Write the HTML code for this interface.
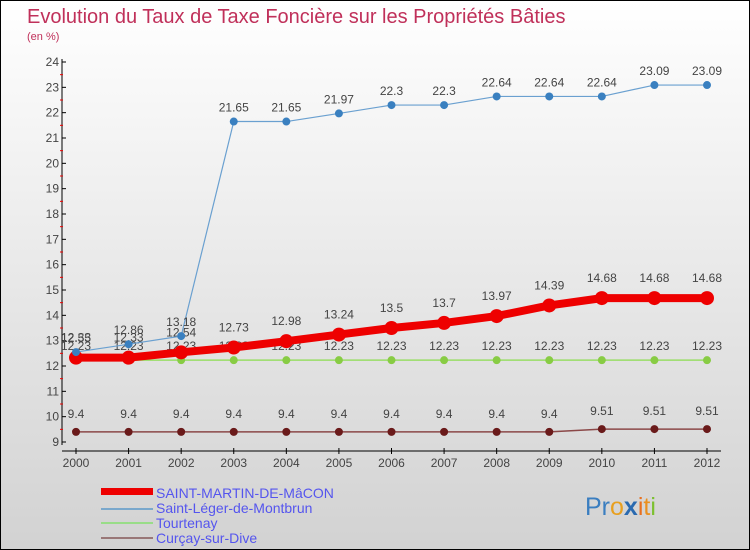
<!DOCTYPE html>
<html><head><meta charset="utf-8"><style>
body{margin:0}
#c{width:748px;height:548px;border:1px solid #000;background:linear-gradient(#fff,#d2d2d2);position:relative;overflow:hidden;font-family:"Liberation Sans",sans-serif}
</style></head><body>
<div id="c">
<svg width="748" height="548" style="position:absolute;left:0;top:0" font-family="Liberation Sans, sans-serif">
<text x="26" y="22" font-size="20" fill="#c0305a">Evolution du Taux de Taxe Foncière sur les Propriétés Bâties</text>
<text x="26" y="39" font-size="11" fill="#c0305a">(en %)</text>
<g id="axes"></g><g id="series"></g>
<g font-size="14">
<rect x="100" y="487" width="52" height="7" fill="#e00"/>
<text x="155" y="497" fill="#55e">SAINT-MARTIN-DE-MâCON</text>
<line x1="100" y1="508" x2="152" y2="508" stroke="#7aa8cc" stroke-width="2"/>
<text x="155" y="512" fill="#55e">Saint-Léger-de-Montbrun</text>
<line x1="100" y1="522" x2="152" y2="522" stroke="#9d8" stroke-width="2"/>
<text x="155" y="527" fill="#55e">Tourtenay</text>
<line x1="100" y1="537" x2="152" y2="537" stroke="#977" stroke-width="2"/>
<text x="155" y="542" fill="#55e">Curçay-sur-Dive</text>
</g>
<g font-size="25">
<text x="584" y="514" fill="#3a7ec0">Pr<tspan fill="#e8a020">o</tspan><tspan fill="#2a6ab0" font-weight="bold">x</tspan><tspan fill="#e87020">i</tspan><tspan fill="#ea9020">t</tspan><tspan fill="#7cc030">i</tspan></text>
</g>
</svg>
</div>
<script>
const years=[2000,2001,2002,2003,2004,2005,2006,2007,2008,2009,2010,2011,2012];
const yTicks=[9,10,11,12,13,14,15,16,17,18,19,20,21,22,23,24];
const smValues=[12.33,12.33,12.54,12.73,12.98,13.24,13.5,13.7,13.97,14.39,14.68,14.68,14.68];
const slValues=[12.55,12.86,13.18,21.65,21.65,21.97,22.3,22.3,22.64,22.64,22.64,23.09,23.09];
const tValues=[12.23,12.23,12.23,12.23,12.23,12.23,12.23,12.23,12.23,12.23,12.23,12.23,12.23];
const cValues=[9.4,9.4,9.4,9.4,9.4,9.4,9.4,9.4,9.4,9.4,9.51,9.51,9.51];
const NS="http://www.w3.org/2000/svg";
const xs=i=>75+i*(631/12);
const ys=v=>441-(v-9)*(380/15);
function mk(p,t,a){const e=document.createElementNS(NS,t);for(const k in a)e.setAttribute(k,a[k]);p.appendChild(e);return e;}
const ax=document.getElementById('axes'),sg=document.getElementById('series');
const yl=mk(ax,'line',{x1:61,y1:58,x2:61,y2:444,stroke:'#000','stroke-width':1});


const xl=mk(ax,'line',{x1:61,y1:450,x2:720,y2:450,stroke:'#000','stroke-width':1});


yTicks.forEach(v=>{
  mk(ax,'line',{x1:61,y1:ys(v),x2:65,y2:ys(v),stroke:'#000'});
  if(v<24)mk(ax,'line',{x1:59,y1:ys(v+0.5),x2:62,y2:ys(v+0.5),stroke:'#e00'});
  const t=mk(ax,'text',{x:58,y:ys(v)+4,'font-size':12,fill:'#444','text-anchor':'end'});t.textContent=v;
  
  
});
years.forEach((y,i)=>{
  mk(ax,'line',{x1:xs(i),y1:447,x2:xs(i),y2:453,stroke:'#000'});
  const t=mk(ax,'text',{x:xs(i),y:466,'font-size':12,fill:'#444','text-anchor':'middle'});t.textContent=y;
  
  
});
function series(vals,color,w,r,name,dot,labelUp){
  const g=mk(sg,'g',{});
  
  
  mk(g,'polyline',{points:vals.map((v,i)=>xs(i)+','+ys(v)).join(' '),fill:'none',stroke:color,'stroke-width':w,'stroke-linejoin':'round'});
  vals.forEach((v,i)=>{
    const c=mk(g,'circle',{cx:xs(i),cy:ys(v),r:r,fill:dot});
    
    
    const t=mk(g,'text',{x:xs(i),y:ys(v)-labelUp,'font-size':12,fill:'#444','text-anchor':'middle'});
    t.textContent=String(v);
    
    
  });
}
series(cValues,'#8b4848',1.5,4,'curcay-series','#6a1a1a',14);
series(tValues,'#99dd66',1.5,4,'tourtenay-series','#88cc44',10);
series(smValues,'#ee0000',8,7,'saint-martin-series','#ee0000',16);
series(slValues,'#6aa0d0',1.2,4,'saint-leger-series','#3a80c0',10);
</script>
</body></html>
